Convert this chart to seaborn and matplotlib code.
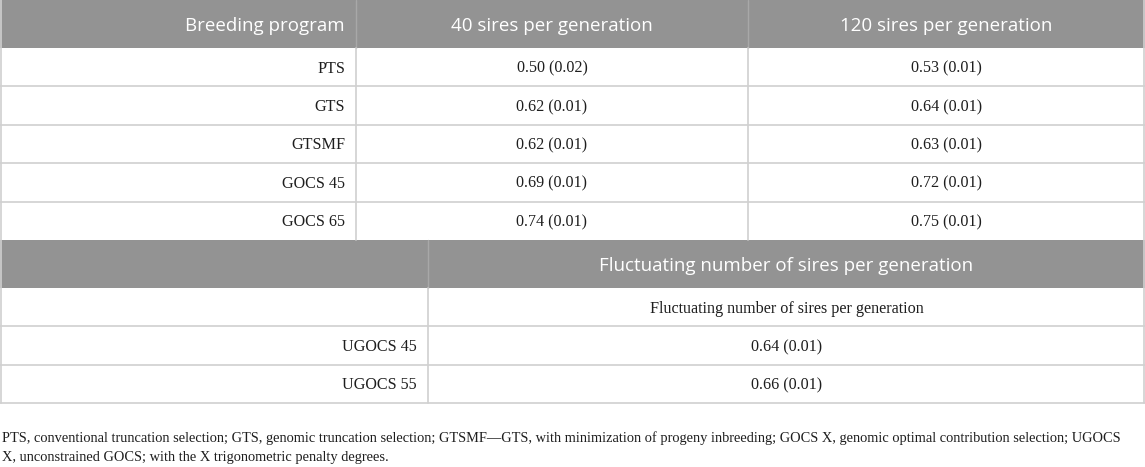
import matplotlib
matplotlib.use("Agg")
import matplotlib.pyplot as plt
import seaborn as sns
from matplotlib.patches import Rectangle

# Table content
col_headers = ["Breeding program", "40 sires per generation", "120 sires per generation"]
programs = ["PTS", "GTS", "GTSMF", "GOCS 45", "GOCS 65"]
mean_40 = [0.50, 0.62, 0.62, 0.69, 0.74]
se_40 = [0.02, 0.01, 0.01, 0.01, 0.01]
mean_120 = [0.53, 0.64, 0.63, 0.72, 0.75]
se_120 = [0.01, 0.01, 0.01, 0.01, 0.01]

fluct_header = "Fluctuating number of sires per generation"
fluct_programs = ["UGOCS 45", "UGOCS 55"]
mean_fluct = [0.64, 0.66]
se_fluct = [0.01, 0.01]

footnote = [
    "PTS, conventional truncation selection; GTS, genomic truncation selection; "
    "GTSMF\u2014GTS, with minimization of progeny inbreeding; GOCS X, genomic optimal "
    "contribution selection; UGOCS",
    "X, unconstrained GOCS; with the X trigonometric penalty degrees.",
]

sns.set_theme(style="white")

W, H = 1145, 467
fig = plt.figure(figsize=(W / 100, H / 100), dpi=100)
ax = fig.add_axes([0, 0, 1, 1])
ax.set_xlim(0, W)
ax.set_ylim(H, 0)
ax.axis("off")

gray = "#939393"
grid = "#d0d0d0"
head_size = 13.5
body_size = 11.6
head_font = dict(family="Open Sans", fontsize=head_size, color="white", va="baseline")
body_font = dict(family="Liberation Serif", fontsize=body_size, color="#1e1e1e", va="baseline")
# half cap height in pixels, so caps sit centred in a row
head_off = 0.714 * head_size * 100 / 72 / 2
body_off = 0.662 * body_size * 100 / 72 / 2

head_h = 48
row_h = 38.4
x1, x2 = 356, 748
xl = 428
pad = 11


def fmt(m, s):
    return f"{m:.2f} ({s:.2f})"


# --- upper section
ax.add_patch(Rectangle((0, 0), W, head_h, color=gray, lw=0))
hy = head_h / 2 + head_off
ax.text(x1 - pad, hy, col_headers[0], ha="right", **head_font)
ax.text((x1 + x2) / 2, hy, col_headers[1], ha="center", **head_font)
ax.text((x2 + W) / 2, hy, col_headers[2], ha="center", **head_font)

top = head_h
for i, p in enumerate(programs):
    yc = top + (i + 0.5) * row_h + body_off
    ax.text(x1 - pad, yc, p, ha="right", **body_font)
    ax.text((x1 + x2) / 2, yc, fmt(mean_40[i], se_40[i]), ha="center", **body_font)
    ax.text((x2 + W) / 2, yc, fmt(mean_120[i], se_120[i]), ha="center", **body_font)
    if i > 0:
        ax.plot([0, W], [top + i * row_h] * 2, color=grid, lw=1.2)
upper_bottom = top + len(programs) * row_h
for x in (x1, x2):
    ax.plot([x, x], [0, head_h], color="#a8a8a8", lw=1)
    ax.plot([x, x], [head_h, upper_bottom], color=grid, lw=1.2)

# --- lower section
y0 = upper_bottom
ax.add_patch(Rectangle((0, y0), W, head_h, color=gray, lw=0))
ax.plot([xl, xl], [y0, y0 + head_h], color="#a8a8a8", lw=1)
ax.text((xl + W) / 2, y0 + head_h / 2 + head_off, fluct_header, ha="center", **head_font)

top = y0 + head_h
ax.text((xl + W) / 2, top + row_h / 2 + body_off, fluct_header, ha="center", **body_font)
for i, p in enumerate(fluct_programs):
    yc = top + (i + 1.5) * row_h + body_off
    ax.text(xl - pad, yc, p, ha="right", **body_font)
    ax.text((xl + W) / 2, yc, fmt(mean_fluct[i], se_fluct[i]), ha="center", **body_font)
for i in range(1, len(fluct_programs) + 1):
    ax.plot([0, W], [top + i * row_h] * 2, color=grid, lw=1.2)
lower_bottom = top + (len(fluct_programs) + 1) * row_h
ax.plot([xl, xl], [top, lower_bottom], color=grid, lw=1.2)

# outer border
ax.plot([0.8, 0.8], [0, lower_bottom], color=grid, lw=1.2)
ax.plot([W - 0.8, W - 0.8], [0, lower_bottom], color=grid, lw=1.2)
ax.plot([0, W], [lower_bottom, lower_bottom], color=grid, lw=1.2)

# footnote
foot_font = dict(family="Liberation Serif", fontsize=10.4, color="#1e1e1e")
ax.text(2, 438, footnote[0], ha="left", va="center", **foot_font)
ax.text(2, 458, footnote[1], ha="left", va="center", **foot_font)

fig.savefig("out.png", dpi=100)
